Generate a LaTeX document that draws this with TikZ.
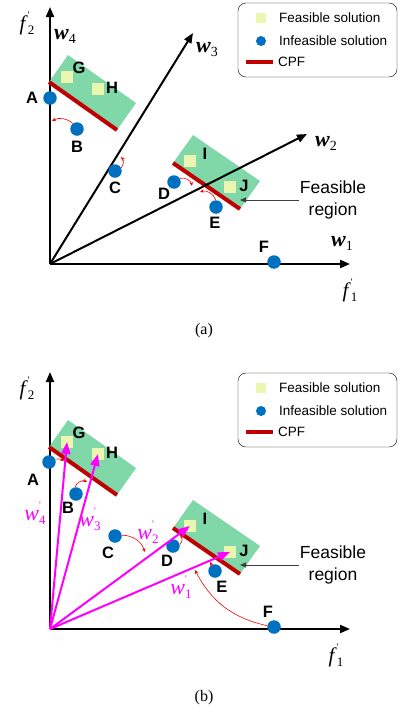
\documentclass[tikz,border=0pt]{standalone}
\usepackage{fontspec}
\setmainfont{Liberation Sans}
\newfontfamily\tnr{Liberation Serif}
\usetikzlibrary{arrows.meta}
\definecolor{RegionGreen}{HTML}{80D7A8}
\definecolor{SolYellow}{HTML}{EBF6B0}
\definecolor{DotBlue}{HTML}{0070C0}
\definecolor{CpfRed}{HTML}{C00000}
\definecolor{VecMagenta}{HTML}{FF00FF}
\newcommand\wlab[1]{{\tnr\fontsize{22}{22}\selectfont\bfseries\itshape w\/}\raisebox{-4pt}{\tnr\fontsize{14}{14}\selectfont #1}}
\newcommand\wplab[1]{{\tnr\fontsize{22}{22}\selectfont\itshape w\/}\rlap{\raisebox{12pt}{\tnr\fontsize{10}{10}\selectfont '}}\raisebox{-4pt}{\tnr\fontsize{13}{13}\selectfont #1}}
\newcommand\flab[1]{{\tnr\fontsize{21}{21}\selectfont\itshape f\/}\rlap{\raisebox{12pt}{\tnr\fontsize{10}{10}\selectfont '}}\raisebox{-4pt}{\tnr\fontsize{13}{13}\selectfont #1}}
\tikzset{axis/.style={-{Triangle[length=10pt,width=8pt]},line width=2pt},
  region/.style={fill=RegionGreen},cpf/.style={CpfRed,line width=4pt},
  sol/.style={fill=SolYellow,minimum size=12pt,inner sep=0pt},
  dot/.style={circle,fill=DotBlue,minimum size=13.5pt,inner sep=0pt},
  lab/.style={font=\fontsize{16.5}{16.5}\selectfont\bfseries,inner sep=0pt},
  move/.style={-{Stealth[length=4pt,width=3.5pt]},red,line width=0.6pt},
  wvec/.style={-{Triangle[length=12pt,width=9pt]},VecMagenta,line width=2pt},
  note/.style={-{Triangle[length=6pt,width=5pt]},black!75,line width=0.8pt},
  legtext/.style={font=\fontsize{13.5}{13.5}\selectfont,anchor=west,inner sep=0pt}}

\begin{document}
\begin{tikzpicture}[x=1pt,y=-1pt]
\useasboundingbox (0,0) rectangle (400,713);
% parts shared by (a) and (b)
\foreach \p/\dy/\ly/\fx in {a/0/0/350,b/365/370/336}{
\begin{scope}[shift={(0,\dy)}]
\coordinate (\p-O) at (50,264); \coordinate (\p-X) at (350,264); \coordinate (\p-Y) at (50,7);
\draw[axis] (\p-O)--(\p-X); \draw[axis] (\p-O)--(\p-Y);
\node (\p-f1) at (\fx,290) {\flab{1}};
\node (\p-f2) at (27,23) {\flab{2}};
\fill[region] (49,82)--(117,130)--(136,103)--(68,55)--cycle;
\fill[region] (173,163)--(240,209)--(260,181)--(193,135)--cycle;
\draw[cpf] (49,82)--(117,130); \draw[cpf] (173,163)--(240,209);
\node[sol] (\p-G) at (67,77) {}; \node[sol] (\p-H) at (98,89) {};
\node[sol] (\p-I) at (190,161) {}; \node[sol] (\p-J) at (230,187) {};
\node[lab] (\p-Glab) at (79,68) {G}; \node[lab] (\p-Hlab) at (112,88) {H};
\node[lab] (\p-Ilab) at (205,154) {I}; \node[lab] (\p-Jlab) at (244,186) {J};
\node[font=\fontsize{17.5}{22.5}\selectfont,align=center,inner sep=1pt] (\p-fr) at (333,200) {Feasible\\region};
\coordinate (\p-frt) at (240,200);
\draw[note] (\p-fr.west)--(\p-frt);
\end{scope}
\begin{scope}[shift={(0,\ly)}]
\draw[rounded corners=8pt] (238,3) rectangle (397,77);
\node[sol,minimum size=10pt] (\p-lsol) at (261,18) {};
\node[legtext] (\p-lsoltxt) at (279,18) {Feasible solution};
\node[dot,minimum size=10pt] (\p-ldot) at (261,41) {};
\node[legtext] (\p-ldottxt) at (279,41) {Infeasible solution};
\coordinate (\p-lcpf1) at (246,62); \coordinate (\p-lcpf2) at (273,62);
\draw[cpf] (\p-lcpf1)--(\p-lcpf2);
\node[legtext] (\p-lcpftxt) at (278,62) {CPF};
\end{scope}
}
% (a)
\coordinate (a-w3) at (193,33); \coordinate (a-w2) at (307,134);
\draw[axis] (a-O)--(a-w3); \draw[axis] (a-O)--(a-w2);
\node (a-w1lab) at (342,243) {\wlab{1}};
\node (a-w2lab) at (326,143) {\wlab{2}};
\node (a-w3lab) at (207,50) {\wlab{3}};
\node (a-w4lab) at (65,36) {\wlab{4}};
\node[dot] (a-A) at (50,98) {}; \node[lab] (a-Alab) at (32,98) {A};
\node[dot] (a-B) at (77,129) {}; \node[lab] (a-Blab) at (77,147) {B};
\node[dot] (a-C) at (115,171) {}; \node[lab] (a-Clab) at (115,188) {C};
\node[dot] (a-D) at (174,182) {}; \node[lab] (a-Dlab) at (164,194) {D};
\node[dot] (a-E) at (216,207) {}; \node[lab] (a-Elab) at (215,223) {E};
\node[dot] (a-F) at (274,262) {}; \node[lab] (a-Flab) at (264,247) {F};
\coordinate (a-Bt) at (52,121); \coordinate (a-Ct) at (121,157);
\coordinate (a-Dt) at (192,186); \coordinate (a-Et) at (200,192);
\draw[move] (a-B) to[bend right=35] (a-Bt);
\draw[move] (a-C) to[bend right=40] (a-Ct);
\draw[move] (a-D) to[bend left=45] (a-Dt);
\draw[move] (a-E) to[bend right=45] (a-Et);
\node[font=\tnr\fontsize{16}{16}\selectfont] (capa) at (204,331) {(a)};
% (b)
\node[dot] (b-A) at (49,462) {}; \node[lab] (b-Alab) at (33,480) {A};
\node[dot] (b-B) at (76,494) {}; \node[lab] (b-Blab) at (68,508) {B};
\node[dot] (b-C) at (115,536) {}; \node[lab] (b-Clab) at (108,553) {C};
\node[dot] (b-D) at (173,546) {}; \node[lab] (b-Dlab) at (167,561) {D};
\node[dot] (b-E) at (215,571) {}; \node[lab] (b-Elab) at (222,587) {E};
\node[dot] (b-F) at (274,627) {}; \node[lab] (b-Flab) at (268,612) {F};
\draw[wvec] (b-O)--(b-G.center); \draw[wvec] (b-O)--(b-H.center);
\draw[wvec] (b-O)--(b-I.center); \draw[wvec] (b-O)--(b-J.center);
\node[VecMagenta] (b-w1lab) at (181,587) {\wplab{1}};
\node[VecMagenta] (b-w2lab) at (148,532) {\wplab{2}};
\node[VecMagenta] (b-w3lab) at (90,519) {\wplab{3}};
\node[VecMagenta] (b-w4lab) at (35,513) {\wplab{4}};
\coordinate (b-At) at (64,461); \coordinate (b-Bt) at (87,482);
\coordinate (b-Ct) at (145,552); \coordinate (b-Dt) at (180,535);
\coordinate (b-Et) at (210,562); \coordinate (b-Ft) at (195,570);
\draw[move] (b-A) to[bend left=20] (b-At);
\draw[move] (b-B) to[bend left=50] (b-Bt);
\draw[move] (b-C) to[bend left=35] (b-Ct);
\draw[move] (b-D) to[bend right=45] (b-Dt);
\draw[move] (b-E) -- (b-Et);
\draw[move] (b-F) to[bend left=25] (b-Ft);
\node[font=\tnr\fontsize{16}{16}\selectfont] (capb) at (204,698) {(b)};
\end{tikzpicture}
\end{document}
